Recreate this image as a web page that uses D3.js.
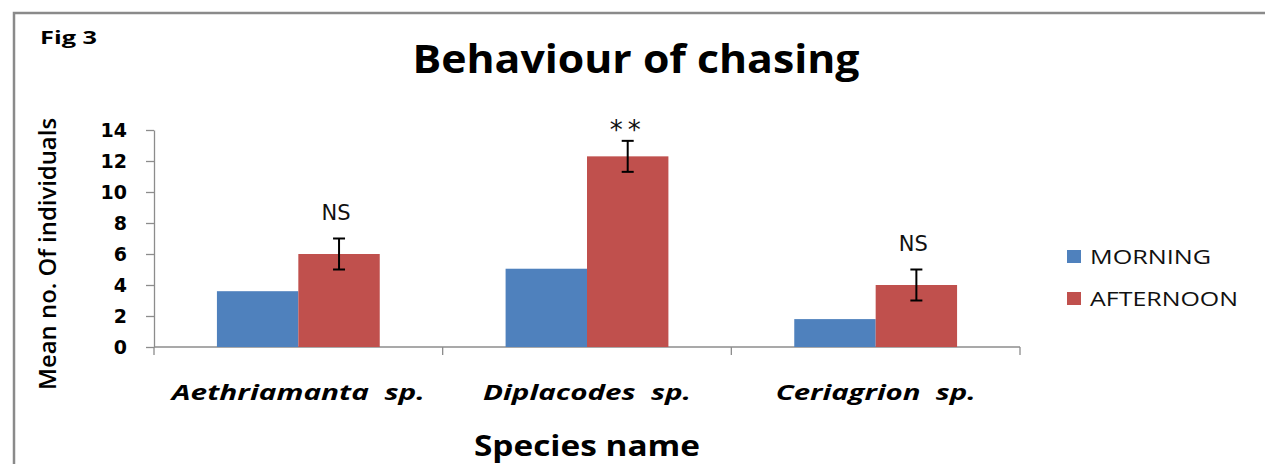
<!DOCTYPE html>
<html>
<head>
<meta charset="utf-8">
<script src="https://cdn.jsdelivr.net/npm/d3@7"></script>
<style>
  html, body { margin: 0; padding: 0; background: #fff; }
  svg { display: block; font-family: "Open Sans", "Noto Sans", sans-serif; }
</style>
</head>
<body>
<div id="chart"></div>
<script>
// data
const species = ["Aethriamanta  sp.", "Diplacodes  sp.", "Ceriagrion  sp."];
const seriesNames = ["MORNING", "AFTERNOON"];
const morning = [3.6, 5.05, 1.8];
const afternoon = [6, 12.3, 4];
const afternoonErr = [1, 1, 1];
const signif = ["NS", "**", "NS"];
const yTicks = [0, 2, 4, 6, 8, 10, 12, 14];

const width = 1265, height = 464;
const colors = ["#4F81BD", "#C0504D"];
const axisGrey = "#8c8c8c";

const svg = d3.select("#chart").append("svg")
    .attr("width", width)
    .attr("height", height);

// outer chart frame
svg.append("rect")
    .attr("x", 14).attr("y", 13)
    .attr("width", 1262).attr("height", 470)
    .attr("fill", "none")
    .attr("stroke", "#8a8a8a")
    .attr("stroke-width", 2.5);

const plot = {left: 154, right: 1020, top: 130, bottom: 347};

const x0 = d3.scaleBand()
    .domain(species)
    .range([plot.left, plot.right])
    .padding(0);

const x1 = d3.scaleBand()
    .domain(seriesNames)
    .range([0, x0.bandwidth()])
    .paddingInner(0)
    .paddingOuter(0.773);

const y = d3.scaleLinear()
    .domain([0, 14])
    .range([plot.bottom, plot.top]);

// y axis
const yAxis = svg.append("g")
    .attr("transform", `translate(${plot.left},0)`)
    .call(d3.axisLeft(y).tickValues(yTicks).tickSize(8).tickPadding(19).tickSizeOuter(0));
yAxis.select(".domain").attr("stroke", axisGrey).attr("stroke-width", 1.3);
yAxis.selectAll(".tick line").attr("stroke", axisGrey).attr("stroke-width", 1.3);
yAxis.selectAll(".tick text")
    .attr("font-size", 19)
    .attr("font-weight", "bold")
    .attr("fill", "#000")
    .attr("font-family", "'DejaVu Sans', sans-serif");

// x axis line with ticks on the category boundaries
const xAxis = svg.append("g");
xAxis.append("line")
    .attr("x1", plot.left).attr("x2", plot.right)
    .attr("y1", y(0)).attr("y2", y(0))
    .attr("stroke", axisGrey).attr("stroke-width", 1.3);
const bounds = species.map(s => x0(s)).concat([x0(species[species.length - 1]) + x0.bandwidth()]);
xAxis.selectAll("line.tick")
    .data(bounds)
    .enter().append("line")
    .attr("class", "tick")
    .attr("x1", d => d).attr("x2", d => d)
    .attr("y1", y(0)).attr("y2", y(0) + 8)
    .attr("stroke", axisGrey).attr("stroke-width", 1.3);

// bars
const rows = species.map((s, i) => ({species: s, values: [morning[i], afternoon[i]]}));
const groups = svg.append("g")
    .selectAll("g")
    .data(rows)
    .enter().append("g")
    .attr("transform", d => `translate(${x0(d.species)},0)`);

groups.selectAll("rect")
    .data(d => d.values.map((v, j) => ({name: seriesNames[j], value: v, j})))
    .enter().append("rect")
    .attr("x", d => x1(d.name))
    .attr("y", d => y(d.value))
    .attr("width", x1.bandwidth())
    .attr("height", d => y(0) - y(d.value))
    .attr("fill", d => colors[d.j]);

// error bars on afternoon bars
const errG = svg.append("g");
species.forEach((s, i) => {
    const cx = x0(s) + x1("AFTERNOON") + x1.bandwidth() / 2;
    const top = y(afternoon[i] + afternoonErr[i]);
    const bot = y(afternoon[i] - afternoonErr[i]);
    errG.append("line").attr("x1", cx).attr("x2", cx).attr("y1", top).attr("y2", bot)
        .attr("stroke", "#000").attr("stroke-width", 2);
    [top, bot].forEach(yy => {
        errG.append("line").attr("x1", cx - 6).attr("x2", cx + 6).attr("y1", yy).attr("y2", yy)
            .attr("stroke", "#000").attr("stroke-width", 2);
    });
    const star = signif[i] === "**";
    errG.append("text")
        .attr("x", star ? cx : cx - 3)
        .attr("y", star ? top - 2 : top - 19)
        .attr("text-anchor", "middle")
        .attr("font-size", star ? 26 : 21)
        .attr("letter-spacing", star ? 5 : 0)
        .attr("font-family", "'DejaVu Sans', sans-serif")
        .attr("fill", "#111")
        .text(signif[i]);
});

// category labels
svg.append("g")
    .selectAll("text")
    .data(species)
    .enter().append("text")
    .attr("x", d => x0(d) + x0.bandwidth() / 2)
    .attr("y", 400)
    .attr("text-anchor", "middle")
    .attr("font-size", 22)
    .attr("font-weight", "bold")
    .attr("font-style", "italic")
    .attr("xml:space", "preserve")
    .style("white-space", "pre")
    .attr("textLength", (d, i) => [253, 208, 200][i])
    .attr("lengthAdjust", "spacingAndGlyphs")
    .text(d => d);

// titles
svg.append("text")
    .attr("x", 636).attr("y", 73)
    .attr("text-anchor", "middle")
    .attr("font-size", 40)
    .attr("font-weight", "bold")
    .attr("textLength", 447)
    .attr("lengthAdjust", "spacingAndGlyphs")
    .text("Behaviour of chasing");

svg.append("text")
    .attr("x", 40).attr("y", 44)
    .attr("font-size", 18)
    .attr("font-weight", "bold")
    .attr("textLength", 57)
    .attr("lengthAdjust", "spacingAndGlyphs")
    .text("Fig 3");

svg.append("text")
    .attr("x", 587).attr("y", 456)
    .attr("text-anchor", "middle")
    .attr("font-size", 28)
    .attr("font-weight", "bold")
    .attr("textLength", 226)
    .attr("lengthAdjust", "spacingAndGlyphs")
    .text("Species name");

svg.append("text")
    .attr("transform", "translate(56,254) rotate(-90)")
    .attr("text-anchor", "middle")
    .attr("font-size", 23)
    .attr("font-weight", 600)
    .attr("textLength", 272)
    .attr("lengthAdjust", "spacingAndGlyphs")
    .text("Mean no. Of individuals");

// legend
const legend = svg.append("g")
    .selectAll("g")
    .data(seriesNames)
    .enter().append("g")
    .attr("transform", (d, i) => `translate(1067,${250 + i * 42})`);
legend.append("rect")
    .attr("width", 14).attr("height", 13)
    .attr("fill", (d, i) => colors[i]);
legend.append("text")
    .attr("x", 23).attr("y", 14)
    .attr("font-size", 20)
    .attr("fill", "#111")
    .attr("textLength", (d, i) => [121, 148][i])
    .attr("lengthAdjust", "spacingAndGlyphs")
    .text(d => d);
</script>
</body>
</html>
